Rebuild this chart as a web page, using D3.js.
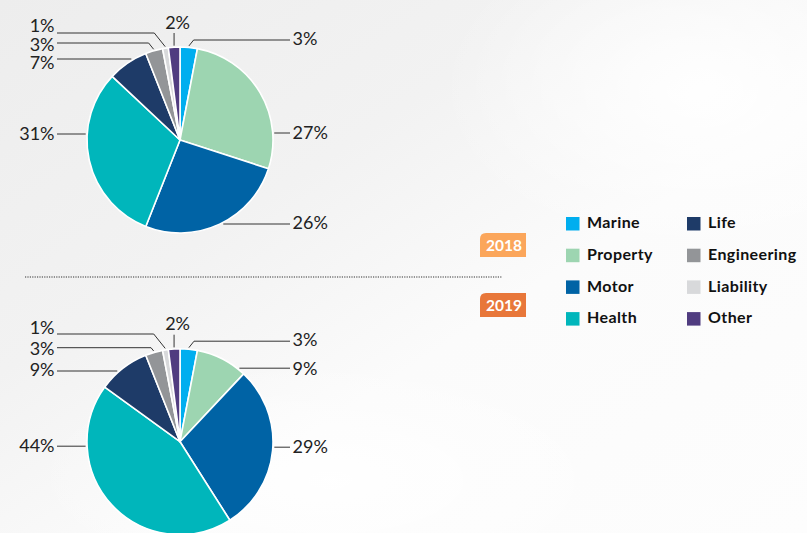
<!DOCTYPE html>
<html>
<head>
<meta charset="utf-8">
<script src="https://cdn.jsdelivr.net/npm/d3@7"></script>
<style>
  html, body { margin: 0; padding: 0; background: #fafafa; }
  svg { display: block; }
</style>
</head>
<body>
<svg id="chart" width="807" height="533"></svg>
<script>
// ---- data ----
const categories = ["Marine", "Property", "Motor", "Health", "Life", "Engineering", "Liability", "Other"];
const values2018 = [3, 27, 26, 31, 7, 3, 1, 2];
const values2019 = [3, 9, 29, 44, 9, 3, 1, 2];
const years = ["2018", "2019"];
const colors = ["#00AEEF", "#9DD5B1", "#0063A5", "#00B6BB", "#1E3B68", "#939598", "#D8D9DB", "#503C80"];
const badgeColors = ["#FBA65B", "#E8773A"];
// label layout: side, leader-line offset (dy) and text offset (ty) from pie centre
const labelLayout2018 = [
  {side: "right", dy: -100, ty: -101.5}, {side: "right", dy: -7, ty: -7}, {side: "right", dy: 84, ty: 83},
  {side: "left", dy: -6, ty: -6.5}, {side: "left", dy: -81, ty: -77}, {side: "left", dy: -97, ty: -95.5},
  {side: "left", dy: -107, ty: -114.5}, {side: "top"}
];
const labelLayout2019 = [
  {side: "right", dy: -100.5, ty: -102}, {side: "right", dy: -73.5, ty: -73.5}, {side: "right", dy: 5.5, ty: 5},
  {side: "left", dy: 4.5, ty: 4}, {side: "left", dy: -70.7, ty: -72.2}, {side: "left", dy: -94, ty: -93.2},
  {side: "left", dy: -107.7, ty: -113.7}, {side: "top"}
];

const svg = d3.select("#chart");
const W = 807, H = 533;

// background
const defs = svg.append("defs");
const g1 = defs.append("linearGradient").attr("id", "bg").attr("x1", 0).attr("y1", 0).attr("x2", 1).attr("y2", 1);
g1.append("stop").attr("offset", 0).attr("stop-color", "#ededed");
g1.append("stop").attr("offset", 0.35).attr("stop-color", "#f2f2f2");
g1.append("stop").attr("offset", 0.6).attr("stop-color", "#fbfbfb");
g1.append("stop").attr("offset", 1).attr("stop-color", "#fdfdfd");
svg.append("rect").attr("width", W).attr("height", H).attr("fill", "url(#bg)");
const g2 = defs.append("radialGradient").attr("id", "glow").attr("cx", 0.5).attr("cy", 0.5).attr("r", 0.5);
g2.append("stop").attr("offset", 0).attr("stop-color", "#ffffff").attr("stop-opacity", 0.9);
g2.append("stop").attr("offset", 1).attr("stop-color", "#ffffff").attr("stop-opacity", 0);
svg.append("ellipse").attr("cx", 700).attr("cy", 90).attr("rx", 260).attr("ry", 170).attr("fill", "url(#glow)");
svg.append("ellipse").attr("cx", 330).attr("cy", 480).attr("rx", 300).attr("ry", 120).attr("fill", "url(#glow)");

const R = 93;
const pie = d3.pie().sort(null).value(d => d.value);
const arc = d3.arc().innerRadius(0).outerRadius(R);
const colorScale = d3.scaleOrdinal().domain(categories).range(colors);

function drawPie(values, layout, cx, cy) {
  const data = categories.map((c, i) => ({cat: c, value: values[i]}));
  const arcs = pie(data);
  const g = svg.append("g").attr("transform", `translate(${cx},${cy})`);
  g.selectAll("path").data(arcs).join("path")
    .attr("d", arc)
    .attr("fill", d => colorScale(d.data.cat))
    .attr("stroke", "#ffffff")
    .attr("stroke-width", 1.6)
    .attr("stroke-linejoin", "round");

  const lineG = g.append("g");
  const textG = g.append("g");
  const pt = (a, r) => [r * Math.sin(a), -r * Math.cos(a)];
  arcs.forEach((d, i) => {
    const L = layout[i];
    const label = d.data.value + "%";
    const mid = (d.startAngle + d.endAngle) / 2;
    if (L.side === "top") {
      const p = pt(mid, R + 1.5);
      lineG.append("line").attr("x1", p[0]).attr("y1", p[1]).attr("x2", p[0]).attr("y2", -R - 14)
        .attr("stroke", "#333").attr("stroke-width", 1);
      textG.append("text").attr("x", p[0] + 3.5).attr("y", -R - 18.5)
        .attr("text-anchor", "middle").text(label);
      return;
    }
    const sgn = L.side === "right" ? 1 : -1;
    const ly = L.dy;
    let pts;
    let used = false;
    if (Math.abs(ly) < R) {
      const ex = sgn * Math.sqrt(R * R - ly * ly);
      let ang = Math.atan2(ex, -ly);
      if (ang < 0) ang += 2 * Math.PI;
      if (ang >= d.startAngle && ang <= d.endAngle) {
        const ex2 = sgn * Math.sqrt((R + 1.5) * (R + 1.5) - ly * ly);
        pts = [[ex2, ly], [sgn > 0 ? 110 : -123, ly]];
        used = true;
      }
    }
    if (!used) {
      const p = pt(mid, R + 1.5);
      const elbowX = p[0] + sgn * 0.8 * Math.abs(p[1] - ly);
      pts = [p, [elbowX, ly], [sgn > 0 ? 110 : -123, ly]];
    }
    lineG.append("path").attr("d", d3.line()(pts))
      .attr("fill", "none").attr("stroke", "#333").attr("stroke-width", 1);
    textG.append("text")
      .attr("x", sgn > 0 ? 112.5 : -125.5)
      .attr("y", L.ty).attr("dy", "0.36em")
      .attr("text-anchor", sgn > 0 ? "start" : "end")
      .text(label);
  });
  textG.selectAll("text")
    .attr("font-family", "Lato, 'Open Sans', sans-serif")
    .attr("font-weight", 400)
    .attr("font-size", 18)
    .attr("fill", "#222");
}

drawPie(values2018, labelLayout2018, 180, 140);
drawPie(values2019, labelLayout2019, 180, 441.7);

// separator
svg.append("line").attr("x1", 25).attr("x2", 502).attr("y1", 277).attr("y2", 277)
  .attr("stroke", "#333").attr("stroke-width", 1.2).attr("stroke-dasharray", "1.2,1.2");

// year badges
const badgeY = [233, 293];
years.forEach((y, i) => {
  const x = 480, yy = badgeY[i], w = 46, h = 24, r = 6;
  svg.append("path")
    .attr("d", `M${x + r},${yy} H${x + w} V${yy + h} H${x} V${yy + r} Q${x},${yy} ${x + r},${yy} Z`)
    .attr("fill", badgeColors[i]);
  svg.append("text").attr("x", x + w / 2 + 1).attr("y", yy + h / 2).attr("dy", "0.36em")
    .attr("text-anchor", "middle")
    .attr("font-family", "Lato, 'Open Sans', sans-serif").attr("font-weight", 700)
    .attr("font-size", 15.5).attr("fill", "#ffffff").text(y);
});

// legend
const legendG = svg.append("g");
const colX = [566, 687];
const rowY0 = 217, rowStep = 31.7;
categories.forEach((c, i) => {
  const col = Math.floor(i / 4), row = i % 4;
  const x = colX[col], y = rowY0 + row * rowStep;
  legendG.append("rect").attr("x", x).attr("y", y).attr("width", 13.5).attr("height", 13.5)
    .attr("fill", colorScale(c));
  legendG.append("text").attr("x", x + 21).attr("y", y + 6.5).attr("dy", "0.3em")
    .attr("font-family", "Lato, 'Open Sans', sans-serif").attr("font-weight", 700)
    .attr("font-size", 16).attr("letter-spacing", 0.4).attr("fill", "#111").text(c);
});
</script>
</body>
</html>
